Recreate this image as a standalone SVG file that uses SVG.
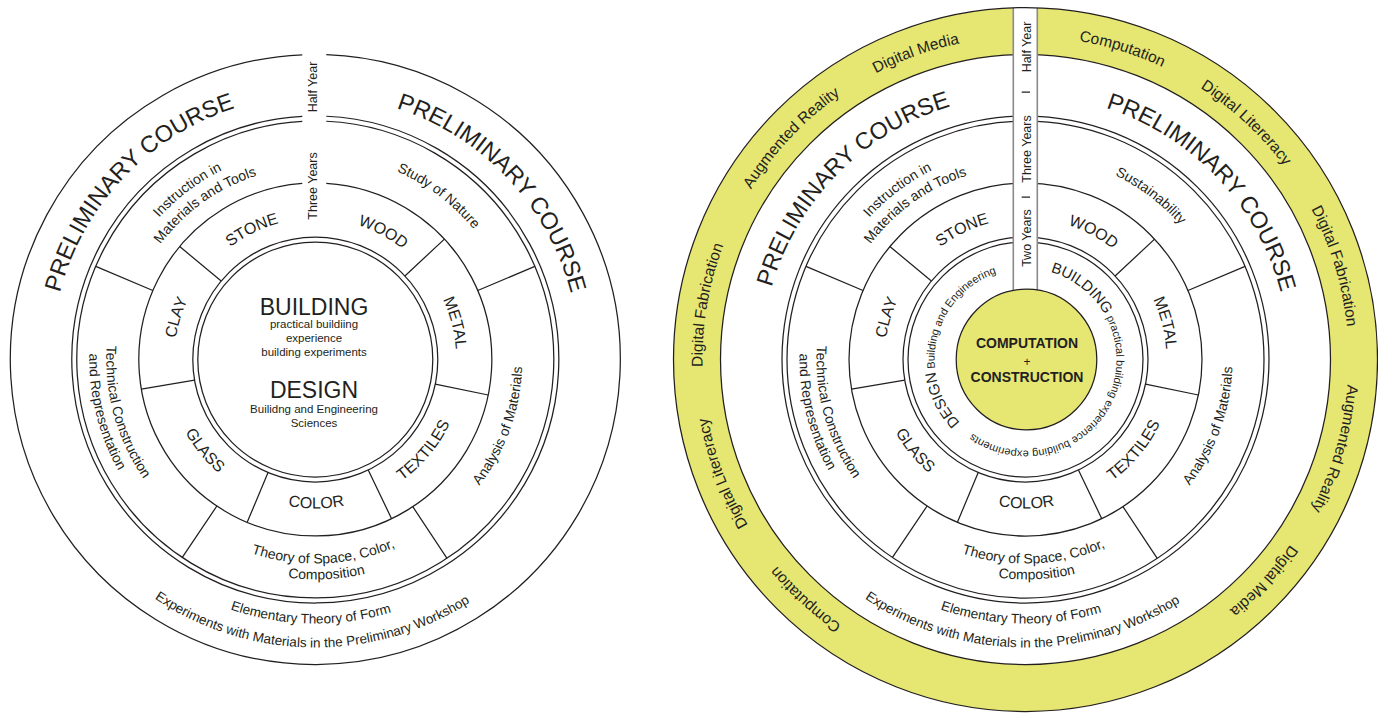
<svg xmlns="http://www.w3.org/2000/svg" width="1378" height="713" viewBox="0 0 1378 713">
<style>
.ln{fill:none;stroke:#231f20;stroke-width:1.25}
.t{font-family:"Liberation Sans",Arial,Helvetica,sans-serif;fill:#231f20;text-anchor:middle}
.pc{font-size:23.5px}
.lab{font-size:14px}
.lab2{font-size:13.5px}
.cap{font-size:16px}
.band{font-size:15.5px}
.yr{font-size:12.5px}
.hd{font-size:23px}
.sm{font-size:11.5px}
.ctr{font-size:14px;font-weight:bold}
.inr{font-size:11px}
.yel{fill:#e6e673}
.strip{fill:none;stroke:#8a8a8a;stroke-width:1.6}
</style>
<defs>
<path id="cw264" d="M0,264 A264,264 0 1,1 0,-264 A264,264 0 1,1 0,264"/>
<path id="cw211" d="M0,211 A211,211 0 1,1 0,-211 A211,211 0 1,1 0,211"/>
<path id="cw193" d="M0,193 A193,193 0 1,1 0,-193 A193,193 0 1,1 0,193"/>
<path id="cw205" d="M0,205 A205,205 0 1,1 0,-205 A205,205 0 1,1 0,205"/>
<path id="cw141" d="M0,141 A141,141 0 1,1 0,-141 A141,141 0 1,1 0,141"/>
<path id="cw323" d="M0,323 A323,323 0 1,1 0,-323 A323,323 0 1,1 0,323"/>
<path id="cw91" d="M0,91 A91,91 0 1,1 0,-91 A91,91 0 1,1 0,91"/>
<path id="ccw264" d="M0,-264 A264,264 0 1,0 0,264 A264,264 0 1,0 0,-264"/>
<path id="ccw288" d="M0,-288 A288,288 0 1,0 0,288 A288,288 0 1,0 0,-288"/>
<path id="ccw207" d="M0,-207 A207,207 0 1,0 0,207 A207,207 0 1,0 0,-207"/>
<path id="ccw204" d="M0,-204 A204,204 0 1,0 0,204 A204,204 0 1,0 0,-204"/>
<path id="ccw220" d="M0,-220 A220,220 0 1,0 0,220 A220,220 0 1,0 0,-220"/>
<path id="ccw209" d="M0,-209 A209,209 0 1,0 0,209 A209,209 0 1,0 0,-209"/>
<path id="ccw226" d="M0,-226 A226,226 0 1,0 0,226 A226,226 0 1,0 0,-226"/>
<path id="ccw149" d="M0,-149 A149,149 0 1,0 0,149 A149,149 0 1,0 0,-149"/>
<g id="dividers">
<path d="M-94.12,-78.41 L-135.60,-112.98 M89.60,-83.54 L129.09,-120.37 M120.0,24.63 L172.90,35.49 M52.93,110.47 L76.27,159.17 M-47.27,113.01 L-68.11,162.82 M-120.75,20.64 L-173.98,29.74"/>
<path d="M-162.47,-68.96 L-219.54,-93.18 M162.47,-68.96 L219.54,-93.18 M97.48,147.18 L131.72,198.89 M-98.43,146.50 L-133.01,197.96"/>
</g>
</defs>

<g id="left-wheel" transform="translate(315.3,359.5)">
  <g id="left-rings" class="ln">
    <path d="M-13,-304.72 A305,305 0 1,0 11,-304.80"/>
    <path d="M-13,-243.15 A243.5,243.5 0 1,0 11,-243.25"/>
    <path d="M-13,-238.15 A238.5,238.5 0 1,0 11,-238.25"/>
    <path d="M-13,-176.02 A176.5,176.5 0 1,0 11,-176.16"/>
    <circle r="122.5"/>
    <circle r="117.5"/>
  </g>
  <g id="left-connectors" class="ln"><use href="#dividers"/></g>
  <g id="left-preliminary" class="t pc">
    <text transform="rotate(-46.5)"><textPath href="#cw264" startOffset="50%">PRELIMINARY COURSE</textPath></text>
    <text transform="rotate(46.7)"><textPath href="#cw264" startOffset="50%">PRELIMINARY COURSE</textPath></text>
  </g>
  <g id="left-outer-bottom" class="t lab2">
    <text transform="rotate(1)"><textPath href="#ccw264" startOffset="50%">Elementary Theory of Form</textPath></text>
    <text transform="rotate(0.7)"><textPath href="#ccw288" startOffset="50%">Experiments with Materials in the Preliminary Workshop</textPath></text>
  </g>
  <g id="left-middle" class="t lab">
    <text transform="rotate(-37)"><textPath href="#cw211" startOffset="50%">Instruction in</textPath></text>
    <text transform="rotate(-35.5)"><textPath href="#cw193" startOffset="50%">Materials and Tools</textPath></text>
    <text transform="rotate(37)"><textPath href="#cw205" startOffset="50%">Study of Nature</textPath></text>
    <text transform="rotate(-70.2)"><textPath href="#ccw207" startOffset="50%">Analysis of Materials</textPath></text>
    <text transform="rotate(-2.4)"><textPath href="#ccw204" startOffset="50%">Theory of Space, Color,</textPath></text>
    <text transform="rotate(-3)"><textPath href="#ccw220" startOffset="50%">Composition</textPath></text>
    <text transform="rotate(74.5)"><textPath href="#ccw209" startOffset="50%">Technical Construction</textPath></text>
    <text transform="rotate(76)"><textPath href="#ccw226" startOffset="50%">and Representation</textPath></text>
  </g>
  <g id="left-materials" class="t cap">
    <text transform="rotate(-26)"><textPath href="#cw141" startOffset="50%">STONE</textPath></text>
    <text transform="rotate(28)"><textPath href="#cw141" startOffset="50%">WOOD</textPath></text>
    <text transform="rotate(75.3)"><textPath href="#cw141" startOffset="50%">METAL</textPath></text>
    <text transform="rotate(-50.1)"><textPath href="#ccw149" startOffset="50%">TEXTILES</textPath></text>
    <text transform="rotate(-0.4)"><textPath href="#ccw149" startOffset="50%">COLOR</textPath></text>
    <text transform="rotate(50.6)"><textPath href="#ccw149" startOffset="50%">GLASS</textPath></text>
    <text transform="rotate(-73.1)"><textPath href="#cw141" startOffset="50%">CLAY</textPath></text>
  </g>
  <g id="left-years" class="t yr">
    <text transform="translate(1.2,-272.5) rotate(-90)">Half Year</text>
    <text transform="translate(1.2,-173.5) rotate(-90)">Three Years</text>
  </g>
  <g id="left-center" class="t">
    <text class="hd" x="-1.3" y="-44.5">BUILDING</text>
    <text class="sm" x="-1.3" y="-32">practical buildiing</text>
    <text class="sm" x="-1.3" y="-18">experience</text>
    <text class="sm" x="-1.3" y="-4">building experiments</text>
    <text class="hd" x="-1.3" y="38.5">DESIGN</text>
    <text class="sm" x="-1.3" y="53.5">Builidng and Engineering</text>
    <text class="sm" x="-1.3" y="67">Sciences</text>
  </g>
</g>

<g id="right-wheel" transform="translate(1025.5,359.5)">
  <path id="right-band" class="yel" fill-rule="evenodd" d="M0,-352 A352,352 0 1,1 0,352 A352,352 0 1,1 0,-352 Z M0,-305 A305,305 0 1,0 0,305 A305,305 0 1,0 0,-305 Z"/>
  <g id="right-rings" class="ln">
    <circle r="305"/>
    <circle r="243.5"/>
    <circle r="238.5"/>
    <circle r="176.5"/>
    <circle r="122.5"/>
    <circle r="117.5"/>
  </g>
  <g id="right-connectors" class="ln"><use href="#dividers"/></g>
  <g id="right-band-labels" class="t band">
    <text transform="rotate(-19.7)"><textPath href="#cw323" startOffset="50%">Digital Media</textPath></text>
    <text transform="rotate(-46.6)"><textPath href="#cw323" startOffset="50%">Augmented Reality</textPath></text>
    <text transform="rotate(-80.3)"><textPath href="#cw323" startOffset="50%">Digital Fabrication</textPath></text>
    <text transform="rotate(249.4)"><textPath href="#cw323" startOffset="50%">Digital Litereracy</textPath></text>
    <text transform="rotate(222.5)"><textPath href="#cw323" startOffset="50%">Computation</textPath></text>
    <text transform="rotate(17.3)"><textPath href="#cw323" startOffset="50%">Computation</textPath></text>
    <text transform="rotate(43)"><textPath href="#cw323" startOffset="50%">Digital Litereracy</textPath></text>
    <text transform="rotate(73.2)"><textPath href="#cw323" startOffset="50%">Digital Fabrication</textPath></text>
    <text transform="rotate(106.05)"><textPath href="#cw323" startOffset="50%">Augmented Reality</textPath></text>
    <text transform="rotate(132.9)"><textPath href="#cw323" startOffset="50%">Digital Media</textPath></text>
  </g>
  <g id="right-preliminary" class="t pc">
    <text transform="rotate(-45.3)"><textPath href="#cw264" startOffset="50%">PRELIMINARY COURSE</textPath></text>
    <text transform="rotate(46.5)"><textPath href="#cw264" startOffset="50%">PRELIMINARY COURSE</textPath></text>
  </g>
  <g id="right-outer-bottom" class="t lab2">
    <text transform="rotate(1)"><textPath href="#ccw264" startOffset="50%">Elementary Theory of Form</textPath></text>
    <text transform="rotate(0.7)"><textPath href="#ccw288" startOffset="50%">Experiments with Materials in the Preliminary Workshop</textPath></text>
  </g>
  <g id="right-middle" class="t lab">
    <text transform="rotate(-37)"><textPath href="#cw211" startOffset="50%">Instruction in</textPath></text>
    <text transform="rotate(-35.5)"><textPath href="#cw193" startOffset="50%">Materials and Tools</textPath></text>
    <text transform="rotate(37.4)"><textPath href="#cw205" startOffset="50%">Sustainability</textPath></text>
    <text transform="rotate(-70.2)"><textPath href="#ccw207" startOffset="50%">Analysis of Materials</textPath></text>
    <text transform="rotate(-2.4)"><textPath href="#ccw204" startOffset="50%">Theory of Space, Color,</textPath></text>
    <text transform="rotate(-3)"><textPath href="#ccw220" startOffset="50%">Composition</textPath></text>
    <text transform="rotate(74.5)"><textPath href="#ccw209" startOffset="50%">Technical Construction</textPath></text>
    <text transform="rotate(76)"><textPath href="#ccw226" startOffset="50%">and Representation</textPath></text>
  </g>
  <g id="right-materials" class="t cap">
    <text transform="rotate(-26)"><textPath href="#cw141" startOffset="50%">STONE</textPath></text>
    <text transform="rotate(28)"><textPath href="#cw141" startOffset="50%">WOOD</textPath></text>
    <text transform="rotate(75.3)"><textPath href="#cw141" startOffset="50%">METAL</textPath></text>
    <text transform="rotate(-50.1)"><textPath href="#ccw149" startOffset="50%">TEXTILES</textPath></text>
    <text transform="rotate(-0.4)"><textPath href="#ccw149" startOffset="50%">COLOR</textPath></text>
    <text transform="rotate(50.6)"><textPath href="#ccw149" startOffset="50%">GLASS</textPath></text>
    <text transform="rotate(-73.1)"><textPath href="#cw141" startOffset="50%">CLAY</textPath></text>
  </g>
  <g id="right-inner-ring" class="t inr">
    <text transform="rotate(283.7)"><textPath href="#cw91" startOffset="50%"><tspan font-size="15px">DESIGN</tspan> Building and Engineering</textPath></text>
    <text transform="rotate(115.8)"><textPath href="#cw91" startOffset="50%"><tspan font-size="15px">BUILDING</tspan> practical building experience building experiments</textPath></text>
  </g>
  <g id="right-timeline">
    <rect x="-12.2" y="-352.5" width="24" height="283.5" fill="#ffffff"/>
    <path class="strip" d="M-12.2,-351.8 V-69 M11.8,-351.8 V-69"/>
    <g class="t yr">
      <text transform="translate(5,-312.5) rotate(-90)">Half Year</text>
      <text transform="translate(5,-210.5) rotate(-90)">Three Years</text>
      <text transform="translate(5,-121.5) rotate(-90)">Two Years</text>
    </g>
    <path class="ln" d="M-3.8,-267.5 H4.5 M-3.8,-162.5 H4.5"/>
  </g>
  <circle class="ln" r="352"/>
  <g id="right-center">
    <circle class="yel" cx="1" r="70.3" stroke="#231f20" stroke-width="1.25"/>
    <text class="t ctr" x="1.5" y="-11.5">COMPUTATION</text>
    <text class="t" font-size="12px" x="1.5" y="6">+</text>
    <text class="t ctr" x="1.5" y="22.2">CONSTRUCTION</text>
  </g>
</g>
</svg>
